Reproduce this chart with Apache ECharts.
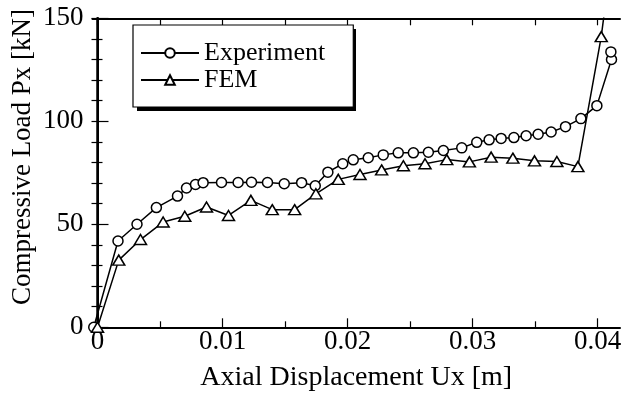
<!DOCTYPE html>
<html>
<head>
<meta charset="utf-8">
<script src="https://cdn.jsdelivr.net/npm/echarts@6/dist/echarts.min.js"></script>
<style>html,body{margin:0;padding:0;background:#fff;}#c{width:623px;height:394px;}</style>
</head>
<body>
<div id="c"></div>
<script>
var expX = [-0.0003, 0.00164, 0.00316, 0.00471, 0.0064, 0.00712, 0.00784, 0.00845, 0.00992, 0.01125, 0.01232, 0.0136, 0.01494, 0.01633, 0.01742, 0.01843, 0.01962, 0.02046, 0.02166, 0.02286, 0.02406, 0.02527, 0.02647, 0.02767, 0.02914, 0.03034, 0.03133, 0.03229, 0.03331, 0.03429, 0.03525, 0.03629, 0.03744, 0.03867, 0.03995, 0.04112, 0.04107];
var expY = [0, 41.9, 50.0, 58.1, 63.7, 67.6, 69.3, 70.2, 70.3, 70.3, 70.4, 70.3, 69.7, 70.2, 68.7, 75.3, 79.4, 81.3, 82.3, 83.7, 84.7, 84.7, 85.0, 85.8, 87.1, 89.8, 91.0, 91.7, 92.1, 93.0, 93.7, 94.8, 97.4, 101.3, 107.6, 130.0, 133.7];
var femX = [0.0, 0.0017, 0.00344, 0.00525, 0.00698, 0.00872, 0.01048, 0.01227, 0.01398, 0.01577, 0.01747, 0.01926, 0.021, 0.02273, 0.02447, 0.0262, 0.02794, 0.02975, 0.03149, 0.03323, 0.03496, 0.03675, 0.03843, 0.0403, 0.0407];
var femY = [0, 32.6, 42.6, 51.1, 53.9, 58.4, 54.3, 61.6, 57.1, 57.1, 64.8, 71.8, 74.2, 76.4, 78.4, 79.4, 81.4, 80.3, 82.6, 82.1, 80.8, 80.5, 78.0, 141.1, 160];
var xMajorTicks = [0, 0.01, 0.02, 0.03, 0.04];
var xTickLabels = ['0', '0.01', '0.02', '0.03', '0.04'];
var xMinorTicks = [0.005, 0.015, 0.025, 0.035];
var seriesNames = ['Experiment', 'FEM'];
var xTitle = 'Axial Displacement Ux [m]';
var yTitle = 'Compressive Load Px [kN]';

function pairs(xs, ys) { return xs.map(function (x, i) { return [x, ys[i]]; }); }

var FONT = 'Liberation Serif';
var XMIN = -0.0004, XMAX = 0.0418;
var allX = xMajorTicks.concat(xMinorTicks).sort(function (a, b) { return a - b; });

var chart = echarts.init(document.getElementById('c'), null, { renderer: 'canvas' });
chart.setOption({
  animation: false,
  backgroundColor: '#fff',
  grid: { left: 92.5, right: 3, top: 18.3, bottom: 66.7, containLabel: false, outerBoundsMode: 'none' },
  legend: {
    orient: 'vertical', left: 133, top: 25, z: 5,
    padding: [15, 28, 14, 7], itemGap: 1, itemWidth: 58, itemHeight: 12,
    backgroundColor: '#fff', borderColor: '#000', borderWidth: 1.2,
    textStyle: { fontFamily: FONT, fontSize: 26, lineHeight: 26, color: '#000' },
    data: seriesNames
  },
  xAxis: [
    {
      type: 'value', position: 'bottom', min: XMIN, max: XMAX,
      axisLine: { show: true, lineStyle: { color: '#000', width: 2 } },
      axisTick: { show: true, inside: true, length: 9, customValues: xMajorTicks, lineStyle: { color: '#000', width: 1.2 } },
      axisLabel: { show: true, customValues: xMajorTicks, margin: 1, fontFamily: FONT, fontSize: 27, color: '#000',
        formatter: function (v) { var i = xMajorTicks.indexOf(v); return i >= 0 ? xTickLabels[i] : ''; } },
      splitLine: { show: false },
      name: xTitle, nameLocation: 'middle', nameGap: 36,
      nameTextStyle: { fontFamily: FONT, fontSize: 28, color: '#000' }
    },
    {
      type: 'value', position: 'bottom', min: XMIN, max: XMAX,
      axisLine: { show: false },
      axisTick: { show: true, inside: true, length: 6, customValues: xMinorTicks, lineStyle: { color: '#000', width: 1.2 } },
      axisLabel: { show: false }, splitLine: { show: false }
    },
    {
      type: 'value', position: 'top', min: XMIN, max: XMAX,
      axisLine: { show: true, lineStyle: { color: '#000', width: 2 } },
      axisTick: { show: true, inside: true, length: 7, customValues: allX, lineStyle: { color: '#000', width: 1.2 } },
      axisLabel: { show: false }, splitLine: { show: false }
    }
  ],
  yAxis: [
    {
      type: 'value', position: 'left', min: 0, max: 150, interval: 50,
      axisLine: { show: true, lineStyle: { color: '#000', width: 2 } },
      axisTick: { show: true, inside: true, length: 11, lineStyle: { color: '#000', width: 1.2 } },
      minorTick: { show: true, splitNumber: 5, length: 5, lineStyle: { color: '#000', width: 1.2 } },
      axisLabel: { margin: 9, fontFamily: FONT, fontSize: 27, color: '#000' },
      splitLine: { show: false }, minorSplitLine: { show: false }
    },
    {
      type: 'value', position: 'right', min: 0, max: 150, interval: 50,
      axisLine: { show: true, lineStyle: { color: '#000', width: 2.5 } },
      axisTick: { show: true, inside: true, length: 6, lineStyle: { color: '#000', width: 1.2 } },
      minorTick: { show: true, splitNumber: 5, length: 6, lineStyle: { color: '#000', width: 1.2 } },
      axisLabel: { show: false },
      splitLine: { show: false }, minorSplitLine: { show: false }
    }
  ],
  graphic: [
    {
      type: 'text', x: 23, y: 157, rotation: Math.PI / 2,
      style: { text: yTitle, fontFamily: FONT, fontSize: 27, fill: '#000', align: 'center', verticalAlign: 'middle' }
    },
    {
      type: 'rect', z: 1, zlevel: 0,
      shape: { x: 137, y: 29, width: 219, height: 82 },
      style: { fill: '#000' }
    }
  ],
  series: [
    {
      name: seriesNames[0], type: 'line', xAxisIndex: 0, yAxisIndex: 0,
      data: pairs(expX, expY), symbol: 'circle', symbolSize: 10, showAllSymbol: true, clip: true,
      lineStyle: { color: '#000', width: 1.5 },
      itemStyle: { color: '#fff', borderColor: '#000', borderWidth: 1.5 },
      z: 3
    },
    {
      name: seriesNames[1], type: 'line', xAxisIndex: 0, yAxisIndex: 0,
      data: pairs(femX, femY), symbol: 'triangle', symbolSize: [12, 10], showAllSymbol: true, clip: true,
      lineStyle: { color: '#000', width: 1.5 },
      itemStyle: { color: '#fff', borderColor: '#000', borderWidth: 1.5 },
      z: 4
    }
  ]
});
</script>
</body>
</html>
